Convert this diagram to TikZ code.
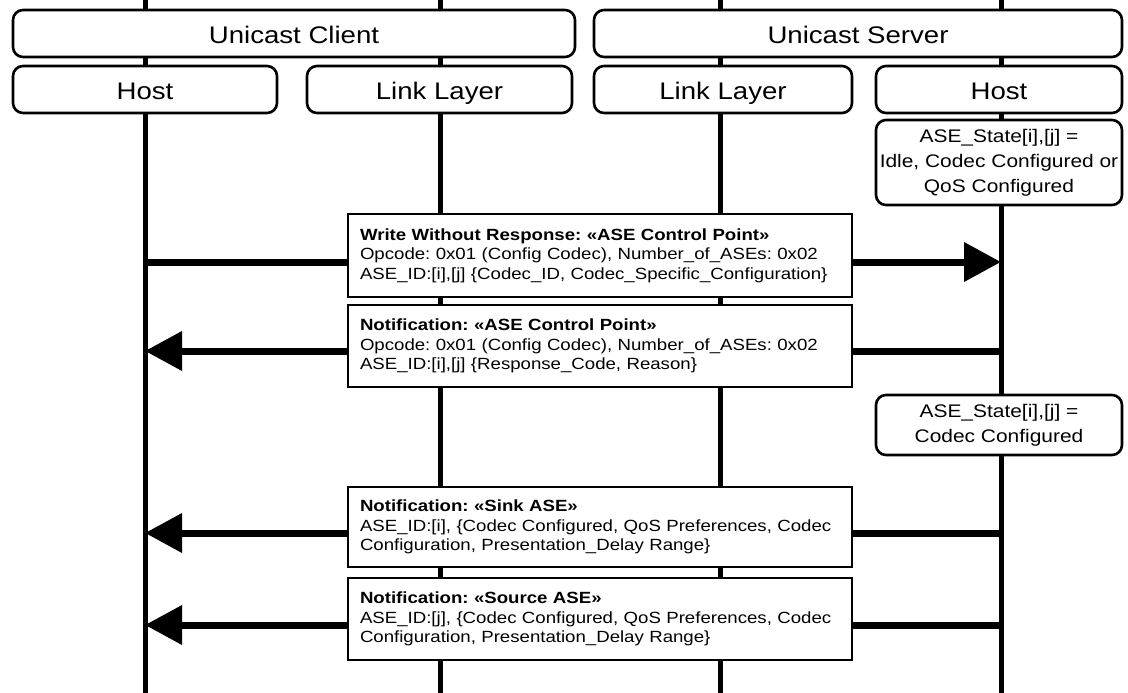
\documentclass[tikz,border=0pt]{standalone}
\usepackage{fontspec}
\setmainfont[FakeStretch=1.15]{Liberation Sans}
\usetikzlibrary{arrows.meta}

\begin{document}
\frenchspacing
\begin{tikzpicture}[x=1pt,y=-1pt,
  box/.style={draw, line width=2.6pt, fill=white, rounded corners=10pt, minimum height=47pt, inner sep=1pt},
  hdr/.style={box, text height=21pt, text depth=1pt, font=\fontsize{24}{28}\selectfont},
  state/.style={box, align=center, font=\fontsize{18.2}{25}\selectfont},
  msgbox/.style={draw, line width=2.6pt, fill=white, text width=480pt, align=left, inner xsep=12pt, inner ysep=2pt, font=\fontsize{16.2}{19.5}\selectfont},
  life/.style={line width=5pt},
  msg/.style={line width=7pt, -{Triangle[length=37pt,width=38pt]}}]
\useasboundingbox (0,0) rectangle (1128,693);
\coordinate (hc-t) at (145,-4);  \coordinate (hc-b) at (145,697);
\coordinate (lc-t) at (440,-4);  \coordinate (lc-b) at (440,697);
\coordinate (ls-t) at (720,-4);  \coordinate (ls-b) at (720,697);
\coordinate (hs-t) at (1001,-4); \coordinate (hs-b) at (1001,697);
\draw[life] (hc-t) -- (hc-b);
\draw[life] (lc-t) -- (lc-b);
\draw[life] (ls-t) -- (ls-b);
\draw[life] (hs-t) -- (hs-b);
\coordinate (w1) at (145,262);  \coordinate (w2) at (1001,262);
\coordinate (n1) at (1001,351); \coordinate (n2) at (145,351);
\coordinate (k1) at (1001,533); \coordinate (k2) at (145,533);
\coordinate (s1) at (1001,625); \coordinate (s2) at (145,625);
\draw[msg] (w1) -- (w2);
\draw[msg] (n1) -- (n2);
\draw[msg] (k1) -- (k2);
\draw[msg] (s1) -- (s2);
\node[hdr, minimum width=562pt] (client) at (294,33.5) {Unicast Client};
\node[hdr, minimum width=528pt] (server) at (858,33.5) {Unicast Server};
\node[hdr, minimum width=264pt] (hostc) at (145,89.5) {Host};
\node[hdr, minimum width=265pt] (linkc) at (439.5,89.5) {Link Layer};
\node[hdr, minimum width=258pt] (links) at (723,89.5) {Link Layer};
\node[hdr, minimum width=246pt] (hosts) at (999,89.5) {Host};
\node[state, minimum width=246pt, minimum height=85pt] (idle) at (999,162.5) {ASE\_State[i],[j] =\\Idle, Codec Configured or\\QoS Configured};
\node[state, minimum width=246pt, minimum height=60pt] (conf) at (999,425) {ASE\_State[i],[j] =\\Codec Configured};
\node[msgbox, minimum height=83pt] (write) at (600,255.5) {\textbf{Write Without Response: «ASE Control Point»}\\Opcode: 0x01 (Config Codec), Number\_of\_ASEs: 0x02\\ASE\_ID:[i],[j] \{Codec\_ID, Codec\_Specific\_Configuration\}};
\node[msgbox, minimum height=82pt] (ctrl) at (600,346) {\textbf{Notification: «ASE Control Point»}\\Opcode: 0x01 (Config Codec), Number\_of\_ASEs: 0x02\\ASE\_ID:[i],[j] \{Response\_Code, Reason\}};
\node[msgbox, minimum height=80pt] (sink) at (600,527) {\textbf{Notification: «Sink ASE»}\\ASE\_ID:[i], \{Codec Configured, QoS Preferences, Codec\\Configuration, Presentation\_Delay Range\}};
\node[msgbox, minimum height=82pt] (source) at (600,619) {\textbf{Notification: «Source ASE»}\\ASE\_ID:[j], \{Codec Configured, QoS Preferences, Codec\\Configuration, Presentation\_Delay Range\}};
\end{tikzpicture}
\end{document}
